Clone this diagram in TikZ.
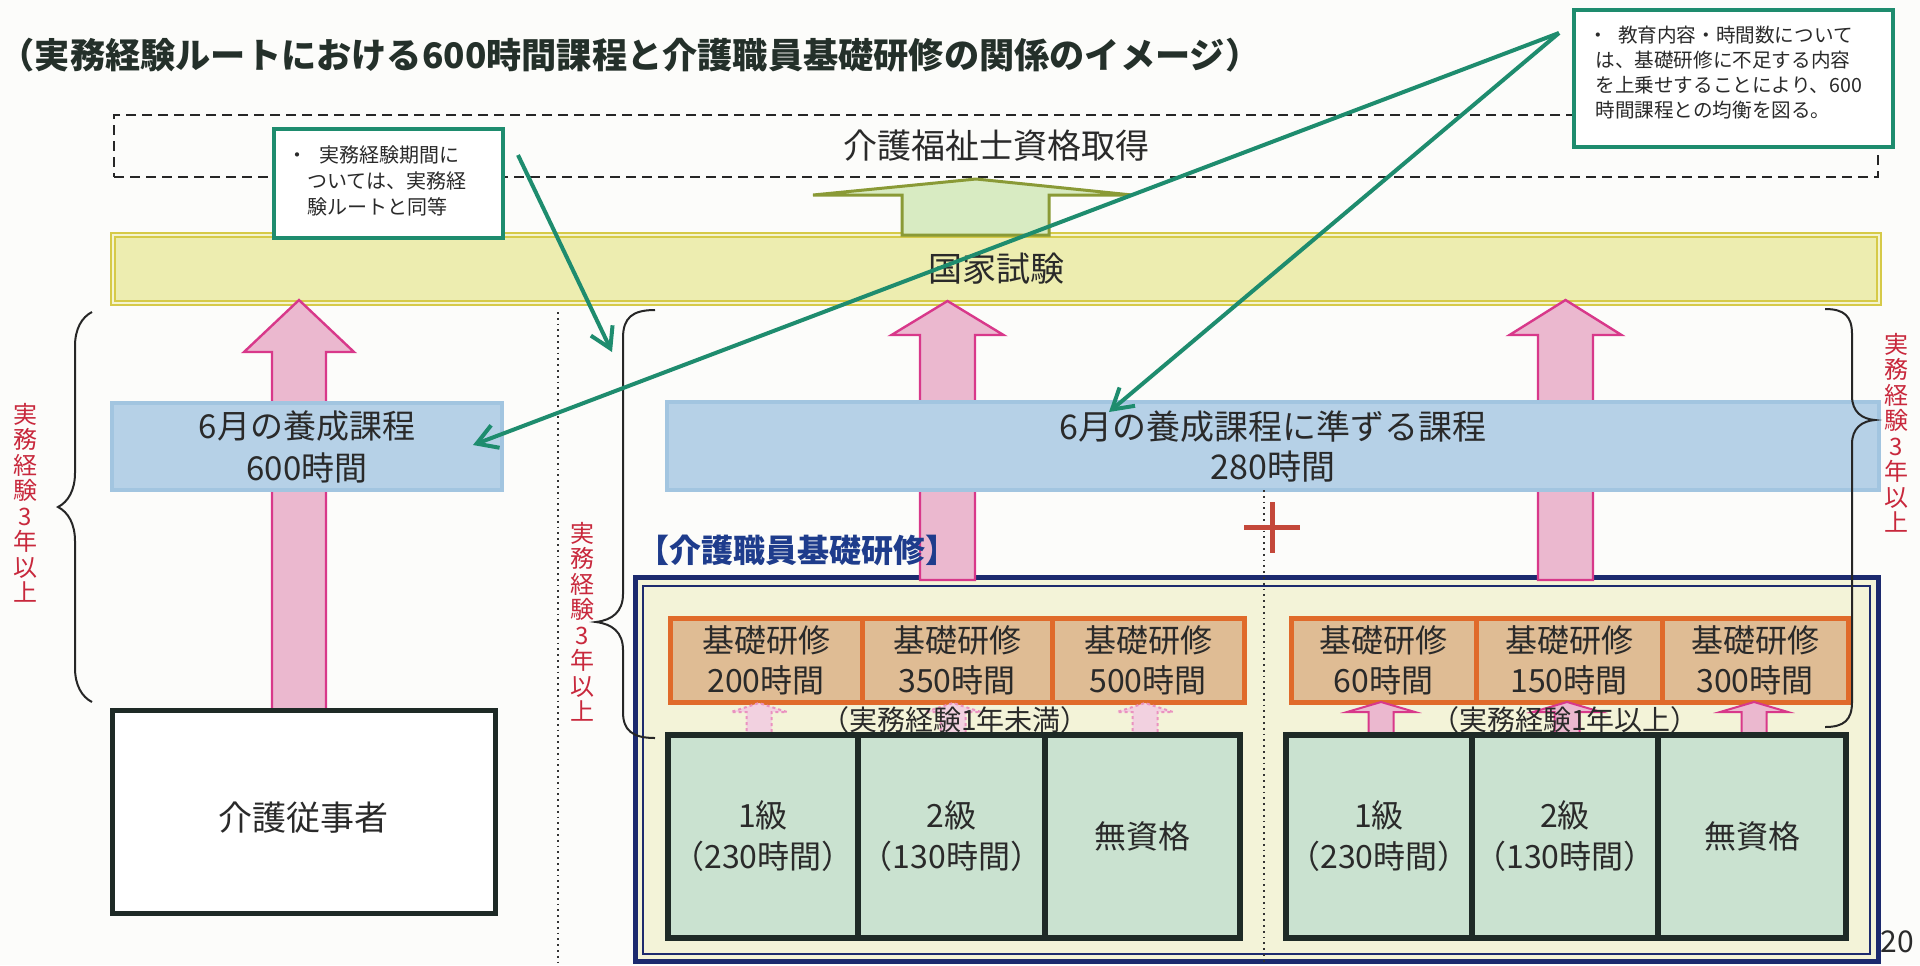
\documentclass[tikz,border=0pt]{standalone}
\usepackage{fontspec}
\setmainfont{Noto Sans CJK JP}
\usetikzlibrary{arrows.meta,decorations.pathreplacing}
\definecolor{teal1}{HTML}{1E8C6E}
\definecolor{inkc}{HTML}{2A2A2A}
\definecolor{titlec}{HTML}{24302A}
\definecolor{redtxt}{HTML}{C8283C}
\definecolor{navy1}{HTML}{1C2A6E}
\definecolor{navytxt}{HTML}{1E3C8C}
\definecolor{examfill}{HTML}{EDEDB0}
\definecolor{examline}{HTML}{D6CA48}
\definecolor{bluefill}{HTML}{B6D1E7}
\definecolor{blueline}{HTML}{A2C5E0}
\definecolor{pinkfill}{HTML}{EBB8CF}
\definecolor{pinkline}{HTML}{D8388A}
\definecolor{orfill}{HTML}{DFBC94}
\definecolor{orline}{HTML}{E06A2A}
\definecolor{grfill}{HTML}{CAE2D0}
\definecolor{grline}{HTML}{1E2A26}
\definecolor{framefill}{HTML}{F3F3D8}
\definecolor{upfill}{HTML}{D8EBC2}
\definecolor{upline}{HTML}{8A9A36}
\definecolor{plusc}{HTML}{C4483A}
\definecolor{paper}{HTML}{FCFCFA}
\newcommand\fz[2]{\fontsize{#1}{#2}\selectfont}
\newcommand\blockarrow[7]{% style, cx, half shaft, half head, apex y, head base y, bottom y
  \draw[#1] ({#2-#3},#7) -- ({#2-#3},#6) -- ({#2-#4},#6) -- (#2,#5) -- ({#2+#4},#6) -- ({#2+#3},#6) -- ({#2+#3},#7) -- cycle;}
\tikzset{
 qualbox/.style={draw=black!85, line width=1.25pt, dash pattern=on 5pt off 3pt, inner sep=0pt, text=inkc},
 exambox/.style={draw=examline, line width=0.8pt, double=examfill!60!white, double distance=1.2pt, fill=examfill, inner sep=0pt, text=inkc},
 notebox/.style={draw=teal1, line width=2pt, fill=white, inner sep=0pt},
 notetext/.style={text=inkc, align=left, inner sep=0pt, font=\fz{10pt}{13pt}},
 coursebox/.style={draw=blueline, line width=2pt, fill=bluefill, inner sep=0pt, text=inkc, align=center},
 workerbox/.style={draw=grline, line width=2.5pt, fill=white, inner sep=0pt, text=inkc},
 framebox/.style={draw=navy1, line width=2.5pt, fill=framefill, inner sep=0pt},
 frameinner/.style={draw=navy1, line width=1pt, inner sep=0pt},
 orbox/.style={draw=orline, line width=2.5pt, fill=orfill, inner sep=0pt, text=inkc, align=center, minimum height=42pt, font=\fz{16pt}{20pt}},
 grbox/.style={draw=grline, line width=3pt, fill=grfill, inner sep=0pt, text=inkc, align=center, minimum height=101.5pt, font=\fz{16pt}{20.5pt}},
 bigarrow/.style={draw=pinkline, line width=1.2pt, fill=pinkfill},
 smallarrow/.style={draw=pinkline, line width=1pt, fill=pinkfill},
 fadedarrow/.style={draw=pinkline!55!white, line width=1pt, dash pattern=on 1.5pt off 1.5pt, fill=pinkfill!65!white},
 uparrowst/.style={draw=upline, line width=1.5pt, fill=upfill},
 tealarrow/.style={draw=teal1, line width=2pt, -{Straight Barb[length=10pt,width=12pt]}},
 bracest/.style={draw=black!85, line width=1pt},
 vtext/.style={text=redtxt, align=center, inner sep=0pt, font=\fz{12pt}{12.75pt}},
 sepline/.style={draw=black!80, line width=0.9pt, dotted},
 labtext/.style={text=inkc, inner sep=0pt, font=\fz{14pt}{16pt}},
}
\begin{document}
\begin{tikzpicture}[x=0.5pt,y=-0.5pt]
\path[fill=paper] (0,0) rectangle (1920,965);
\useasboundingbox (0,0) rectangle (1920,965);

% title
\node[text=titlec, inner sep=0pt, font=\fz{17.6pt}{20pt}\bfseries] (title) at (630,55)
  {（実務経験ルートにおける600時間課程と介護職員基礎研修の関係のイメージ）};

% qualification (dashed)
\node[qualbox, minimum width=882pt, minimum height=31pt, font=\fz{17pt}{20pt}] (qual) at (996,146) {介護福祉士資格取得};

% exam bar
\node[exambox, minimum width=883pt, minimum height=34pt, font=\fz{17pt}{20pt}] (exam) at (996,269) {国家試験};

% green up arrow exam -> qualification
\draw[uparrowst] (902,235) -- (902,195) -- (813,195) -- (976,179) -- (1132,195) -- (1049,195) -- (1049,235) -- cycle;

% frame of kiso kenshu
\node[text=inkc, inner sep=0pt, font=\fz{15pt}{18pt}] (page) at (1897,942) {20};
\node[framebox, minimum width=621.5pt, minimum height=192pt] (frame) at (1256.5,769) {};
\node[frameinner, minimum width=613.5pt, minimum height=184pt] (framein) at (1256.5,770) {};

% big pink arrows
\blockarrow{bigarrow}{299}{27}{55}{300}{352}{713}
\blockarrow{bigarrow}{947.5}{27.5}{56}{301}{335}{580}
\blockarrow{bigarrow}{1565.5}{27.5}{56}{300}{335}{580}

% courses
\node[coursebox, minimum width=195pt, minimum height=43.5pt, font=\fz{16.5pt}{21pt}] (courseL) at (307,446.5) {6月の養成課程\\600時間};
\node[coursebox, minimum width=606pt, minimum height=44pt, font=\fz{17pt}{20pt}] (courseR) at (1273,446) {6月の養成課程に準ずる課程\\280時間};

% worker
\node[workerbox, minimum width=191.5pt, minimum height=101.5pt, font=\fz{17pt}{20pt}] (worker) at (303.5,811.5) {};
\node[text=inkc, inner sep=0pt, font=\fz{17pt}{20pt}] (workert) at (303,818) {介護従事者};

% orange boxes
\node[orbox, minimum width=96pt] (o1) at (766,660) {基礎研修\\200時間};
\node[orbox, minimum width=95pt] (o2) at (957,660) {基礎研修\\350時間};
\node[orbox, minimum width=96pt] (o3) at (1148,660) {基礎研修\\500時間};
\node[orbox, minimum width=92.5pt] (o4) at (1383.5,660) {基礎研修\\60時間};
\node[orbox, minimum width=93pt] (o5) at (1569,660) {基礎研修\\150時間};
\node[orbox, minimum width=93pt] (o6) at (1755,660) {基礎研修\\300時間};

% small arrows
\blockarrow{fadedarrow}{759}{12.5}{28}{703}{712}{737}
\blockarrow{fadedarrow}{953}{12.5}{28}{703}{712}{737}
\blockarrow{fadedarrow}{1145}{12.5}{28}{703}{712}{737}
\blockarrow{smallarrow}{1381}{12.5}{34}{702}{712}{737}
\blockarrow{smallarrow}{1567}{12.5}{34}{702}{712}{737}
\blockarrow{smallarrow}{1754}{12.5}{34}{702}{712}{737}

\node[labtext] (lab1) at (955,720) {（実務経験1年未満）};
\node[labtext] (lab2) at (1565,720) {（実務経験1年以上）};

% green qualification boxes
\node[grbox, minimum width=95pt] (g1) at (763,836.5) {1級\\（230時間）};
\node[grbox, minimum width=93.5pt] (g2) at (951.5,836.5) {2級\\（130時間）};
\node[grbox, minimum width=97.5pt] (g3) at (1142.5,836.5) {無資格};
\node[grbox, minimum width=93pt] (g4) at (1379,836.5) {1級\\（230時間）};
\node[grbox, minimum width=93pt] (g5) at (1565,836.5) {2級\\（130時間）};
\node[grbox, minimum width=94pt] (g6) at (1752,836.5) {無資格};

% separators
\draw[sepline] (558,312) -- (558,965);
\draw[sepline] (1264,490) -- (1264,965);

% label of frame
\node[text=navytxt, inner sep=0pt, font=\fz{16pt}{19pt}\bfseries] (kisolab) at (797,550) {【介護職員基礎研修】};

% plus
\draw[plusc, line width=2.5pt] (1272,502) -- (1272,553) (1244,527) -- (1300,527);

% braces
\draw[bracest, decorate, decoration={brace, amplitude=17pt}] (92,702) -- (92,312);
\draw[bracest] (655,310) .. controls (632,310) and (623,318) .. (623,338) -- (623,594)
  .. controls (623,612) and (612,620) .. (596,622) .. controls (612,624) and (623,632) .. (623,650)
  -- (623,712) .. controls (623,730) and (632,738) .. (655,738);
\draw[bracest] (1825,309) .. controls (1844,309) and (1852,316) .. (1852,334) -- (1852,396)
  .. controls (1852,412) and (1862,419) .. (1875,420) .. controls (1862,421) and (1852,428) .. (1852,444)
  -- (1852,702) .. controls (1852,720) and (1844,727) .. (1825,727);

% red vertical texts
\node[vtext] (vt1) at (25,503) {実\\務\\経\\験\\3\\年\\以\\上};
\node[vtext] (vt2) at (582,622) {実\\務\\経\\験\\3\\年\\以\\上};
\node[vtext] (vt3) at (1896,433) {実\\務\\経\\験\\3\\年\\以\\上};

% notes
\node[notebox, minimum width=114.5pt, minimum height=54.5pt] (noteL) at (388.5,183.5) {};
\node[notetext, anchor=west] (noteLt) at (307,181) {\hspace*{-10pt}・\hspace{6pt}実務経験期間に\\ついては、実務経\\験ルートと同等};
\node[notebox, minimum width=159.5pt, minimum height=68.5pt] (noteR) at (1733.5,78.5) {};
\node[notetext, anchor=west, font=\fz{9.8pt}{12.5pt}] (noteRt) at (1595,73) {\hspace*{-3.5pt}・\hspace{5pt}教育内容・時間数について\\は、基礎研修に不足する内容\\を上乗せすることにより、600\\時間課程との均衡を図る。};

% teal connectors
\coordinate (apx) at (1559,33);
\coordinate (tipA) at (473,445);
\coordinate (tipB) at (1109,412);
\coordinate (nls) at (518,155);
\coordinate (nle) at (612,352);
\draw[tealarrow] (apx) -- (tipA);
\draw[tealarrow] (apx) -- (tipB);
\draw[tealarrow] (nls) -- (nle);
\end{tikzpicture}
\end{document}
